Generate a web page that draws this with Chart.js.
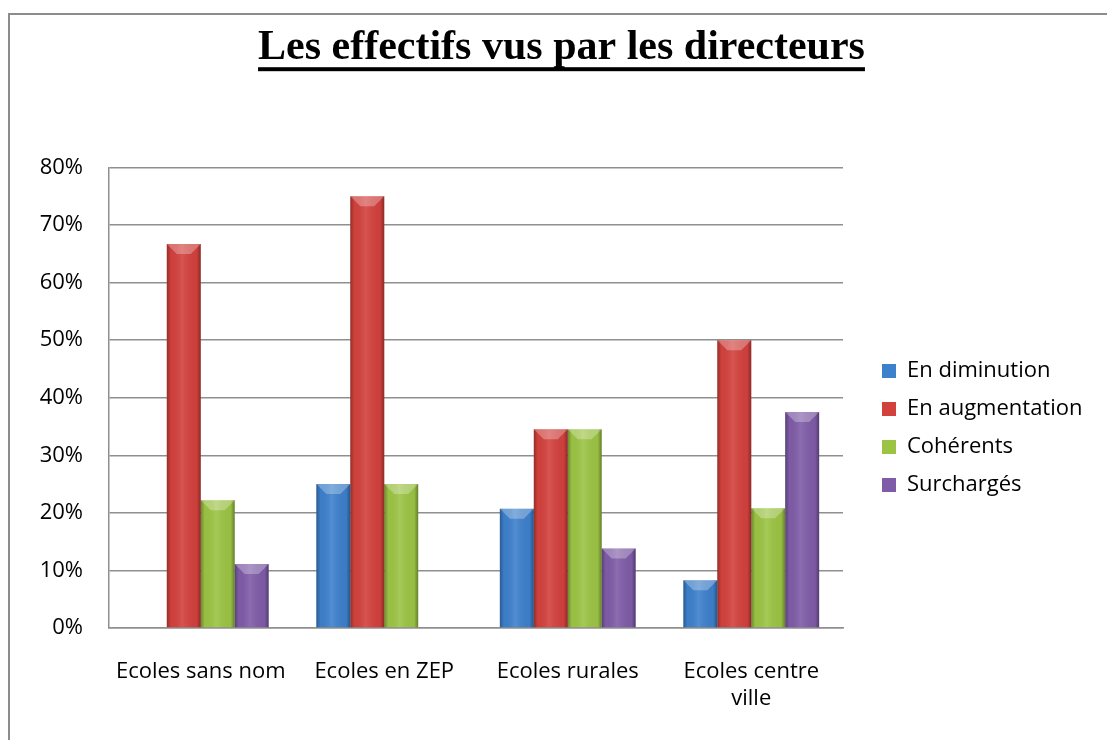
<!DOCTYPE html>
<html>
<head>
<meta charset="utf-8">
<script src="https://cdn.jsdelivr.net/npm/chart.js@4/dist/chart.umd.min.js"></script>
<style>
  html, body { margin: 0; padding: 0; background: #fff; overflow: hidden; }
  #frame { position: absolute; left: 8px; top: 13px; width: 1200px; height: 800px; border: 2px solid #8c8c8c; }
  #wrap { position: absolute; left: 0; top: 0; width: 1107px; height: 740px; }
</style>
</head>
<body>
<div id="frame"></div>
<div id="wrap"><canvas id="chart"></canvas></div>
<script>
const categories = ['Ecoles sans nom', 'Ecoles en ZEP', 'Ecoles rurales', ['Ecoles centre', 'ville']];
const enDiminution = [0, 25, 20.7, 8.3];
const enAugmentation = [66.7, 75, 34.5, 50];
const coherents = [22.2, 25, 34.5, 20.8];
const surcharges = [11.1, 0, 13.8, 37.5];
const yTicks = [0, 10, 20, 30, 40, 50, 60, 70, 80];

const titleText = 'Les effectifs vus par les directeurs';
const titleFont = 'bold 42px "Liberation Serif", "Times New Roman", serif';

// bevel look on each bar, drawn over the library's own bar elements
const bevel = {
  id: 'bevel',
  afterDatasetsDraw(chart) {
    const ctx = chart.ctx;
    chart.data.datasets.forEach((ds, di) => {
      chart.getDatasetMeta(di).data.forEach(bar => {
        const h = bar.base - bar.y;
        if (h <= 0) return;
        const l = bar.x - bar.width / 2, r = bar.x + bar.width / 2;
        const g = ctx.createLinearGradient(l, 0, r, 0);
        g.addColorStop(0, 'rgba(0,0,0,0.30)');
        g.addColorStop(0.12, 'rgba(0,0,0,0.02)');
        g.addColorStop(0.45, 'rgba(255,255,255,0.10)');
        g.addColorStop(0.88, 'rgba(0,0,0,0.03)');
        g.addColorStop(1, 'rgba(0,0,0,0.35)');
        ctx.save();
        ctx.fillStyle = g;
        ctx.fillRect(l, bar.y, r - l, h);
        const b = Math.min(10, h / 2, bar.width / 3);
        ctx.beginPath();
        ctx.moveTo(l, bar.y);
        ctx.lineTo(r, bar.y);
        ctx.lineTo(r - b, bar.y + b);
        ctx.lineTo(l + b, bar.y + b);
        ctx.closePath();
        ctx.fillStyle = 'rgba(255,255,255,0.28)';
        ctx.fill();
        ctx.restore();
      });
    });
  }
};

// fixed legend width, legend placement and title underline
const extras = {
  id: 'extras',
  beforeUpdate(chart) {
    const lg = chart.legend;
    if (lg && !lg._fixed) {
      const fit = lg.fit.bind(lg);
      lg.fit = function () { fit(); this.width = 264; };
      lg._fixed = true;
    }
  },
  afterLayout(chart) {
    const lg = chart.legend;
    lg.left += 23; lg.right += 23;
    lg.top += 58; lg.bottom += 58;
  },
  afterDraw(chart) {
    const t = chart.titleBlock;
    const ctx = chart.ctx;
    ctx.save();
    ctx.font = titleFont;
    const w = ctx.measureText(titleText).width;
    const cx = (t.left + t.right) / 2;
    const cy = t.top + 23 + 25.2;
    ctx.fillStyle = '#000';
    ctx.fillRect(cx - w / 2, cy + 19, w, 4);
    ctx.restore();
  }
};

new Chart(document.getElementById('chart'), {
  type: 'bar',
  data: {
    labels: categories,
    datasets: [
      { label: 'En diminution', data: enDiminution, backgroundColor: '#3d80cc' },
      { label: 'En augmentation', data: enAugmentation, backgroundColor: '#d3413d' },
      { label: 'Cohérents', data: coherents, backgroundColor: '#9cc444' },
      { label: 'Surchargés', data: surcharges, backgroundColor: '#7f5ca8' }
    ]
  },
  options: {
    responsive: true,
    maintainAspectRatio: false,
    animation: false,
    layout: { padding: { left: 16, right: 0, top: 0, bottom: 0 } },
    datasets: { bar: { categoryPercentage: 0.74, barPercentage: 1.0 } },
    scales: {
      x: {
        grid: { display: false },
        border: { display: true, color: '#8f8f8f', width: 1.5 },
        ticks: { color: '#000', font: { family: '"Open Sans"', size: 22 }, padding: 23, maxRotation: 0, autoSkip: false },
        afterFit(scale) { scale.height = 112; }
      },
      y: {
        min: 0, max: 80,
        afterBuildTicks(scale) { scale.ticks = yTicks.map(v => ({ value: v })); },
        grid: { color: '#8f8f8f', lineWidth: 1.5, drawTicks: false },
        border: { display: true, color: '#8f8f8f', width: 1.5 },
        ticks: { color: '#000', font: { family: '"Open Sans"', size: 22 }, padding: 26, callback: v => v + '%' },
        afterFit(scale) { scale.width = 93; }
      }
    },
    plugins: {
      title: {
        display: true,
        text: titleText,
        color: '#000',
        font: { family: '"Liberation Serif", "Times New Roman", serif', size: 42, weight: 'bold' },
        padding: { top: 23, bottom: 94 }
      },
      legend: {
        position: 'right',
        align: 'center',
        labels: { color: '#000', font: { family: '"Open Sans"', size: 22 }, boxWidth: 14, boxHeight: 14, padding: 16 }
      },
      tooltip: { enabled: false }
    }
  },
  plugins: [bevel, extras]
});
</script>
</body>
</html>
